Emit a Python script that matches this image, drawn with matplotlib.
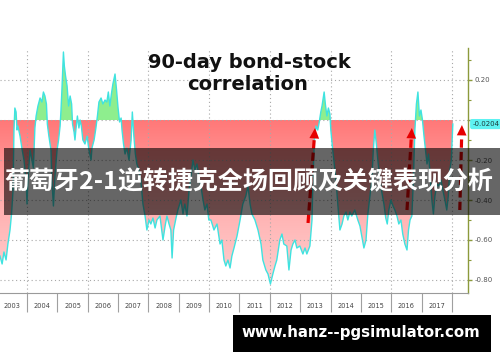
import matplotlib
matplotlib.use("Agg")
import matplotlib.pyplot as plt
import numpy as np
from matplotlib.colors import LinearSegmentedColormap
from matplotlib.path import Path
from matplotlib.patches import Rectangle

plt.rcParams['axes.unicode_minus'] = False
plt.rcParams['font.family'] = ['DejaVu Sans']

# ---------------- data ----------------
years = [
    2003.11, 2003.18, 2003.24, 2003.31, 2003.37, 2003.44, 2003.49, 2003.54, 2003.57, 2003.60,
    2003.64, 2003.67, 2003.70, 2003.77, 2003.83, 2003.90, 2003.97, 2004.00, 2004.03, 2004.10,
    2004.16, 2004.21, 2004.26, 2004.30, 2004.36, 2004.43, 2004.49, 2004.54, 2004.59, 2004.64,
    2004.67, 2004.72, 2004.79, 2004.82, 2004.87, 2004.92, 2004.99, 2005.04, 2005.09, 2005.12,
    2005.15, 2005.20, 2005.23, 2005.27, 2005.32, 2005.37, 2005.42, 2005.47, 2005.50, 2005.55,
    2005.58, 2005.61, 2005.66, 2005.71, 2005.75, 2005.79, 2005.84, 2005.91, 2005.98, 2006.04,
    2006.11, 2006.14, 2006.21, 2006.27, 2006.32, 2006.37, 2006.44, 2006.50, 2006.57, 2006.63,
    2006.68, 2006.73, 2006.78, 2006.83, 2006.90, 2006.95, 2007.00, 2007.05, 2007.10, 2007.13,
    2007.18, 2007.23, 2007.29, 2007.36, 2007.43, 2007.47, 2007.52, 2007.57, 2007.62, 2007.69,
    2007.75, 2007.82, 2007.89, 2007.95, 2008.02, 2008.08, 2008.15, 2008.22, 2008.28, 2008.38,
    2008.48, 2008.55, 2008.61, 2008.68, 2008.74, 2008.78, 2008.83, 2008.91, 2008.97, 2009.07,
    2009.14, 2009.20, 2009.27, 2009.34, 2009.40, 2009.47, 2009.53, 2009.60, 2009.66, 2009.73,
    2009.80, 2009.86, 2009.93, 2009.99, 2010.06, 2010.16, 2010.26, 2010.36, 2010.42, 2010.49,
    2010.55, 2010.62, 2010.69, 2010.75, 2010.82, 2010.92, 2011.02, 2011.11, 2011.21, 2011.28,
    2011.35, 2011.41, 2011.51, 2011.61, 2011.71, 2011.77, 2011.87, 2011.94, 2012.02, 2012.10,
    2012.17, 2012.23, 2012.33, 2012.40, 2012.46, 2012.56, 2012.63, 2012.70, 2012.76, 2012.83,
    2012.89, 2012.99, 2013.09, 2013.16, 2013.22, 2013.32, 2013.39, 2013.42, 2013.47, 2013.52,
    2013.58, 2013.63, 2013.68, 2013.72, 2013.75, 2013.79, 2013.83, 2013.88, 2013.93, 2013.98,
    2014.01, 2014.06, 2014.11, 2014.18, 2014.24, 2014.31, 2014.38, 2014.44, 2014.51, 2014.57,
    2014.64, 2014.70, 2014.80, 2014.90, 2014.97, 2015.03, 2015.10, 2015.17, 2015.23, 2015.30,
    2015.36, 2015.41, 2015.46, 2015.51, 2015.56, 2015.63, 2015.69, 2015.76, 2015.82, 2015.87,
    2015.92, 2015.99, 2016.06, 2016.12, 2016.19, 2016.25, 2016.32, 2016.38, 2016.45, 2016.52,
    2016.57, 2016.62, 2016.68, 2016.73, 2016.78, 2016.83, 2016.88, 2016.93, 2016.98, 2017.03,
    2017.08, 2017.13, 2017.18, 2017.23, 2017.27, 2017.34, 2017.39, 2017.44, 2017.51, 2017.57,
    2017.64, 2017.70, 2017.77, 2017.83, 2017.88, 2017.93, 2017.98, 2018.03]

correlation = [
    -0.68, -0.72, -0.66, -0.70, -0.62, -0.55, -0.47, -0.35, -0.05, 0.06,
    0.04, -0.05, -0.03, -0.08, -0.14, -0.20, -0.30, -0.42, -0.30, -0.15,
    -0.20, -0.24, -0.04, 0.02, 0.07, 0.11, 0.09, 0.14, 0.12, 0.08,
    -0.02, -0.08, -0.15, -0.30, -0.43, -0.28, -0.15, -0.10, -0.03, 0.05,
    0.15, 0.34, 0.27, 0.22, 0.17, 0.07, 0.12, 0.08, -0.02, -0.06,
    -0.10, -0.05, 0.02, -0.04, 0.00, -0.03, -0.10, -0.12, -0.08, -0.15,
    -0.20, -0.14, -0.10, -0.04, 0.02, 0.09, 0.11, 0.08, 0.10, 0.09,
    0.14, 0.07, 0.13, 0.18, 0.23, 0.15, 0.06, -0.01, 0.01, -0.05,
    -0.12, -0.17, -0.14, -0.20, -0.10, 0.04, -0.08, -0.17, -0.22, -0.25,
    -0.30, -0.42, -0.48, -0.55, -0.50, -0.52, -0.49, -0.54, -0.50, -0.48,
    -0.60, -0.53, -0.48, -0.52, -0.55, -0.69, -0.55, -0.49, -0.45, -0.40,
    -0.47, -0.42, -0.48, -0.35, -0.28, -0.20, -0.25, -0.22, -0.28, -0.33,
    -0.40, -0.45, -0.42, -0.50, -0.50, -0.55, -0.52, -0.62, -0.60, -0.70,
    -0.73, -0.70, -0.74, -0.68, -0.64, -0.58, -0.50, -0.42, -0.38, -0.33,
    -0.42, -0.47, -0.50, -0.55, -0.62, -0.70, -0.75, -0.77, -0.82, -0.77,
    -0.73, -0.70, -0.60, -0.57, -0.62, -0.63, -0.75, -0.65, -0.62, -0.60,
    -0.64, -0.63, -0.67, -0.64, -0.67, -0.63, -0.50, -0.30, -0.10, -0.03,
    -0.05, -0.01, 0.04, 0.07, 0.10, 0.14, 0.08, 0.02, 0.06, 0.03,
    -0.05, -0.13, -0.20, -0.30, -0.42, -0.55, -0.52, -0.48, -0.46, -0.50,
    -0.46, -0.48, -0.45, -0.50, -0.53, -0.58, -0.64, -0.60, -0.47, -0.38,
    -0.30, -0.15, -0.05, -0.12, -0.20, -0.30, -0.36, -0.42, -0.49, -0.52,
    -0.45, -0.40, -0.43, -0.45, -0.48, -0.52, -0.50, -0.57, -0.62, -0.65,
    -0.55, -0.50, -0.48, -0.30, -0.05, 0.08, 0.14, 0.02, 0.05, 0.00,
    -0.08, -0.15, -0.22, -0.17, -0.25, -0.40, -0.47, -0.38, -0.32, -0.33,
    -0.30, -0.35, -0.40, -0.45, -0.38, -0.25, -0.20, -0.02]

baseline = 0.0
last_value = -0.0204
last_label = "-0.0204"
year_labels = ["2003", "2004", "2005", "2006", "2007", "2008", "2009", "2010",
               "2011", "2012", "2013", "2014", "2015", "2016", "2017"]
year_starts = [2004, 2005, 2006, 2007, 2008, 2009, 2010, 2011, 2012, 2013,
               2014, 2015, 2016, 2017, 2018]
grid_years = [2004, 2006, 2008, 2010, 2012, 2014, 2016, 2018]
y_major = [-0.8, -0.6, -0.4, -0.2, 0.0, 0.2]
# the 0.00 label sits behind the last-value tag in the reference
y_major_labels = ["-0.80", "-0.60", "-0.40", "-0.20", "", "0.20"]
y_minor = [-0.7, -0.5, -0.3, -0.1, 0.1, 0.3]

arrow_tail_x = [2013.26, 2016.52, 2018.26]
arrow_tail_y = [-0.515, -0.45, -0.45]
arrow_head_x = [2013.49, 2016.68, 2018.33]
arrow_head_y = [-0.04, -0.04, -0.025]

title_line1 = "90-day bond-stock"
title_line2 = "correlation"
banner_text = "葡萄牙2-1逆转捷克全场回顾及关键表现分析"
url_text = "www.hanz--pgsimulator.com"

# ---------------- figure ----------------
W, H = 500, 362
fig = plt.figure(figsize=(W / 100, H / 100), dpi=100)
fig.patch.set_facecolor("white")
ax = fig.add_axes([0, 1 - 293 / H, 468 / W, (293 - 48) / H])
XMIN, XMAX = 2003.11, 2018.53
YMIN, YMAX = -0.865, 0.36

x = np.array(years)
y = np.array(correlation)

below = ax.fill_between(x, y, baseline, where=y <= baseline, interpolate=True,
                        facecolor="none", edgecolor="none")
ax.fill_between(x, y, baseline, where=y >= baseline, interpolate=True,
                facecolor="#8eee8e", edgecolor="none", zorder=2)

red_cmap = LinearSegmentedColormap.from_list("redfade", ["#ff7878", "#ffb0b0", "#ffd4d4"])
grad = np.linspace(0, 1, 256).reshape(-1, 1)
im = ax.imshow(grad, extent=[XMIN, XMAX, YMIN, baseline], aspect="auto",
               cmap=red_cmap, origin="upper", zorder=2, interpolation="bilinear")
clip = Path.make_compound_path(*below.get_paths())
im.set_clip_path(clip, transform=ax.transData)

# grid
for gy in y_major:
    ax.axhline(gy, color="#a8a8a8", lw=0.8, ls=(0, (1, 2.5)), zorder=2.5)
for gx in grid_years:
    ax.axvline(gx, color="#a8a8a8", lw=0.8, ls=(0, (1, 2.5)), zorder=2.5)

ax.plot(x, y, color="#3fe3e0", lw=1.0, zorder=3)

ax.set_xlim(XMIN, XMAX)
ax.set_ylim(YMIN, YMAX)

# spines
for s in ["left", "top"]:
    ax.spines[s].set_visible(False)
ax.spines["bottom"].set_color("#9a9a9a")
ax.spines["bottom"].set_linewidth(0.8)
ax.spines["right"].set_color("#8c9a3c")
ax.spines["right"].set_linewidth(1.0)

# y axis on right
ax.yaxis.tick_right()
ax.set_yticks(y_major)
ax.set_yticklabels(y_major_labels)
ax.set_yticks(y_minor, minor=True)
ax.tick_params(axis="y", which="major", colors="#8c9a3c", length=3, width=1,
               labelsize=5, labelcolor="#555555", pad=2)
ax.tick_params(axis="y", which="minor", colors="#8c9a3c", length=2, width=0.8)

# x axis: separators and centred year labels
ax.set_xticks(year_starts)
ax.set_xticklabels([""] * len(year_starts))
ax.set_xticks([int(l) + 0.5 for l in year_labels], minor=True)
ax.set_xticklabels(year_labels, minor=True)
ax.tick_params(axis="x", which="major", length=13.7, width=0.8, colors="#a0a0a0",
               direction="out")
ax.tick_params(axis="x", which="minor", length=0, labelsize=4.8,
               labelcolor="#444444", pad=7.5)

# last value tag
ax.annotate(last_label, xy=(1.0, last_value), xycoords=("axes fraction", "data"),
            xytext=(3, 0), textcoords="offset points", va="center", ha="left",
            fontsize=5, color="#1a3a3a", annotation_clip=False,
            bbox=dict(boxstyle="round,pad=0.3", fc="#5ef2f2", ec="none"))

# red dashed arrows
for tx, ty, hx, hy in zip(arrow_tail_x, arrow_tail_y, arrow_head_x, arrow_head_y):
    frac = 0.055 / (hy - ty)
    bx = hx - (hx - tx) * frac
    by = hy - 0.055
    ax.plot([tx, bx], [ty, by], color="#e60000", lw=2.3, ls=(0, (2.6, 1.3)),
            dash_capstyle="butt", zorder=4, clip_on=False)
    ax.annotate("", xy=(hx, hy), xytext=(bx, by),
                arrowprops=dict(arrowstyle="-|>,head_length=0.75,head_width=0.35",
                                color="#e60000", lw=0, shrinkA=0, shrinkB=0,
                                mutation_scale=10),
                zorder=4, annotation_clip=False)

# title
fig.text(249 / W, 1 - 62 / H, title_line1, ha="center", va="center",
         fontsize=14, fontweight="bold", color="#111111")
fig.text(248 / W, 1 - 85 / H, title_line2, ha="center", va="center",
         fontsize=14, fontweight="bold", color="#111111")

# banner overlay
fig.add_artist(Rectangle((4 / W, 1 - 215 / H), 496 / W, 67 / H, transform=fig.transFigure,
                         facecolor="black", alpha=0.6, edgecolor="none", zorder=5))
fig.text(249 / W, 1 - 182 / H, banner_text, ha="center", va="center",
         fontsize=18, fontweight="bold", color="white",
         family=["Noto Sans CJK SC", "DejaVu Sans"], zorder=6)

# url box
fig.add_artist(Rectangle((233 / W, 1 - 352 / H), 258 / W, 37 / H, transform=fig.transFigure,
                         facecolor="black", edgecolor="none", zorder=5))
fig.text(361 / W, 1 - 333 / H, url_text, ha="center", va="center",
         fontsize=10.8, fontweight="bold", color="white", zorder=6)

fig.savefig("out.png", dpi=100)
